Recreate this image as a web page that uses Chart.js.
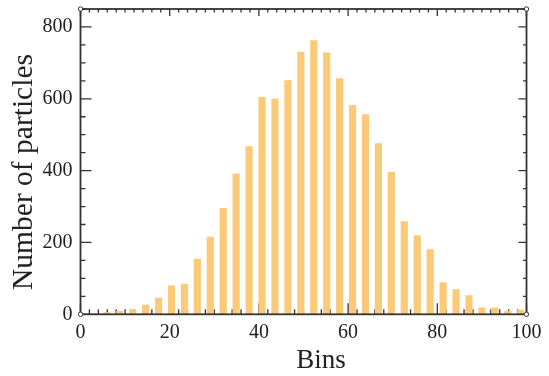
<!DOCTYPE html>
<html>
<head>
<meta charset="utf-8">
<script src="https://cdn.jsdelivr.net/npm/chart.js@4/dist/chart.umd.min.js"></script>
<style>
  html, body { margin: 0; padding: 0; background: #fff; }
  #chart { display: block; }
</style>
</head>
<body>
<canvas id="chart" width="549" height="376"></canvas>
<script>
// bin centres and particle counts per bin
const bins = [3.0, 5.9, 8.8, 11.7, 14.6, 17.5, 20.4, 23.3, 26.2, 29.1, 32.0, 34.9,
  37.8, 40.7, 43.6, 46.5, 49.4, 52.3, 55.2, 58.1, 61.0, 63.9, 66.8, 69.7,
  72.6, 75.5, 78.4, 81.3, 84.2, 87.1, 90.0, 92.9, 95.8, 98.7];
const counts = [3, 5, 8, 13, 26, 45, 79, 84, 154, 215, 295, 391,
  467, 604, 600, 651, 730, 762, 728, 656, 582, 556, 475, 395,
  258, 219, 180, 88, 69, 52, 18, 18, 9, 12];

const xTicks = [0, 20, 40, 60, 80, 100];
const yTicks = [0, 200, 400, 600, 800];

const barColor = 'rgb(250, 202, 120)';
const axisColor = '#333';
const textColor = '#222';
const serif = '"Liberation Serif", "DejaVu Serif", serif';

// inward ticks, box frame and axis titles
const axisFrame = {
  id: 'axisFrame',
  beforeDatasetsDraw(chart) {
    const { ctx, chartArea: a, scales: { x, y } } = chart;
    ctx.save();
    ctx.strokeStyle = axisColor;
    ctx.lineWidth = 1.3;
    ctx.beginPath();
    for (let v = 0; v <= 100; v += 2) {
      const px = x.getPixelForValue(v);
      const major = xTicks.includes(v);
      ctx.moveTo(px, a.bottom);
      ctx.lineTo(px, a.bottom - (major ? 11 : 5));
      ctx.moveTo(px, a.top);
      ctx.lineTo(px, a.top + (major ? 7 : 3.5));
    }
    for (let v = 0; v <= 850; v += 50) {
      const py = y.getPixelForValue(v);
      const major = yTicks.includes(v);
      ctx.moveTo(a.left, py);
      ctx.lineTo(a.left + (major ? 11 : 5), py);
      ctx.moveTo(a.right, py);
      ctx.lineTo(a.right - (major ? 8 : 3.5), py);
    }
    ctx.stroke();
    ctx.restore();
  },
  afterDatasetsDraw(chart) {
    const { ctx, chartArea: a } = chart;
    ctx.save();
    ctx.strokeStyle = axisColor;
    ctx.lineWidth = 1.8;
    ctx.strokeRect(a.left, a.top, a.right - a.left, a.bottom - a.top);

    ctx.lineWidth = 1;
    ctx.fillStyle = '#fff';
    for (const [cx, cy] of [[a.left, a.top], [a.right, a.top], [a.left, a.bottom], [a.right, a.bottom]]) {
      ctx.beginPath();
      ctx.arc(cx, cy, 2.2, 0, Math.PI * 2);
      ctx.fill();
      ctx.stroke();
    }

    ctx.fillStyle = textColor;
    ctx.textAlign = 'center';
    ctx.textBaseline = 'alphabetic';
    ctx.font = '27px ' + serif;
    ctx.fillText('Bins', 321, 368);

    ctx.font = '29.5px ' + serif;
    ctx.translate(32, 172);
    ctx.rotate(-Math.PI / 2);
    ctx.fillText('Number of particles', 0, 0);
    ctx.restore();
  }
};

new Chart(document.getElementById('chart'), {
  type: 'bar',
  data: {
    datasets: [{
      data: bins.map((b, i) => ({ x: b, y: counts[i] })),
      backgroundColor: barColor,
      borderWidth: 0,
      barThickness: 6.5
    }]
  },
  options: {
    responsive: false,
    animation: false,
    layout: { padding: { top: 9, right: 22.5, left: 0, bottom: 0 } },
    plugins: {
      legend: { display: false },
      tooltip: { enabled: false }
    },
    scales: {
      x: {
        type: 'linear',
        offset: false,
        min: 0,
        max: 100,
        grid: { display: false, drawTicks: false },
        border: { display: false },
        ticks: {
          stepSize: 20,
          maxRotation: 0,
          padding: 6,
          color: textColor,
          font: { family: serif, size: 20 }
        },
        afterBuildTicks(s) { s.ticks = xTicks.map(v => ({ value: v })); },
        afterFit(s) { s.height = 61.7; s.paddingLeft = 0; s.paddingRight = 0; }
      },
      y: {
        min: 0,
        max: 850,
        grid: { display: false, drawTicks: false },
        border: { display: false },
        ticks: {
          padding: 8,
          color: textColor,
          font: { family: serif, size: 20 }
        },
        afterBuildTicks(s) { s.ticks = yTicks.map(v => ({ value: v })); },
        afterFit(s) { s.width = 80.5; s.paddingTop = 0; s.paddingBottom = 0; }
      }
    }
  },
  plugins: [axisFrame]
});
</script>
</body>
</html>
